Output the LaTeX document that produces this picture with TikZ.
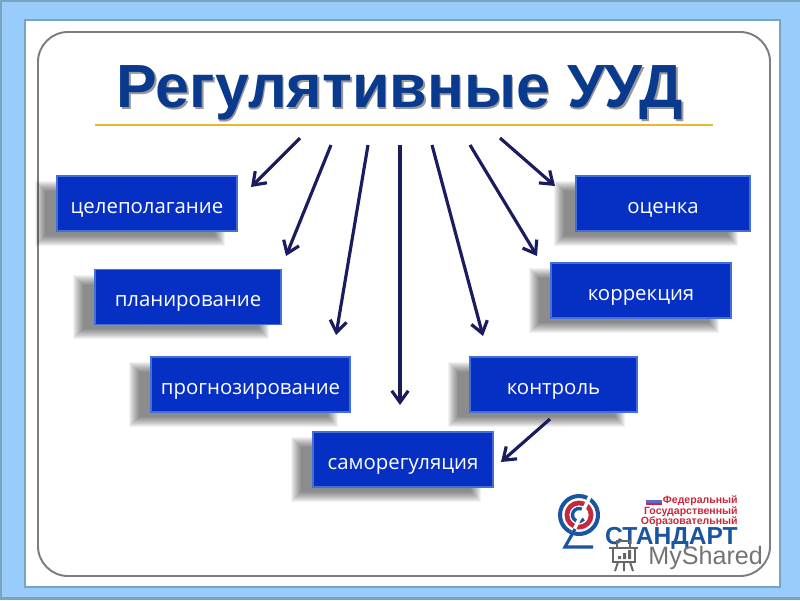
\documentclass[tikz,border=0pt]{standalone}
\usepackage{fontspec}
\setmainfont{Liberation Sans}
\newfontfamily\boxfont{Open Sans}
\usetikzlibrary{arrows.meta,calc,backgrounds}
\definecolor{cpage}{RGB}{153,204,250}
\definecolor{cedge}{RGB}{120,165,190}
\definecolor{cframe}{RGB}{125,125,125}
\definecolor{cbox}{RGB}{6,48,196}
\definecolor{cboxe}{RGB}{70,110,215}
\definecolor{carr}{RGB}{27,28,95}
\definecolor{ctitle}{RGB}{10,58,142}
\definecolor{cgold}{RGB}{232,185,47}
\definecolor{clogor}{RGB}{200,40,60}
\definecolor{clogob}{RGB}{25,85,160}
\newcommand{\boxshadow}[1]{%
  \foreach \k in {-6,...,4}
    \fill[black, opacity=0.05] ($(#1.north west)+(-17-\k,10-\k)$) rectangle ($(#1.south east)+(-17+\k,10+\k)$);
}
\tikzset{
  ubox/.style={rectangle, fill=cbox, draw=cboxe, line width=0.8pt, inner sep=0pt, text=white, font=\boxfont\fontsize{11.6}{13}\selectfont, minimum height=1.1cm, text height=2.1ex, text depth=0pt},
  uarr/.style={-{Straight Barb[length=2.3mm, width=3.3mm]}, carr, line width=1.8pt},
  flab/.style={font=\fontsize{6}{7}\selectfont\bfseries, text=clogor, anchor=east, inner sep=0pt},
  ring/.style={line width=#1, line cap=butt},
}
\begin{document}
\begin{tikzpicture}[x=0.02cm, y=-0.02cm]
  \useasboundingbox (0,0) rectangle (800,600);
  % frame
  \begin{pgfonlayer}{background}
    \fill[cedge] (0,0) rectangle (800,600);
    \fill[cpage] (2,2) rectangle (800,597);
    \fill[white, draw=cedge, line width=0.8pt] (25,20) rectangle (780,587);
    \draw[cframe, line width=1.1pt, rounded corners=0.6cm] (38,32) rectangle (770,576);
  \end{pgfonlayer}
  % title
  \node[font=\fontsize{34.7}{40}\selectfont\bfseries, text=black!40, inner sep=0pt, anchor=base] (titshadow) at (401.5,109.5) {Регулятивные УУД};
  \node[font=\fontsize{34.7}{40}\selectfont\bfseries, text=ctitle, inner sep=0pt, anchor=base] (title) at (400,107) {Регулятивные УУД};
  \coordinate (rulea) at (95,125);
  \coordinate (ruleb) at (713,125);
  \draw[cgold, line width=1.6pt] (rulea) -- (ruleb);
  % boxes
  \node[ubox, minimum width=3.6cm] (celep) at (147,203.5) {целеполагание};
  \node[ubox, minimum width=3.72cm] (plan) at (188,297) {планирование};
  \node[ubox, minimum width=3.98cm] (prog) at (250.5,384.5) {прогнозирование};
  \node[ubox, minimum width=3.6cm] (samor) at (403,459.5) {саморегуляция};
  \node[ubox, minimum width=3.34cm] (kontr) at (553.5,384.5) {контроль};
  \node[ubox, minimum width=3.6cm] (korr) at (641,290.5) {коррекция};
  \node[ubox, minimum width=3.48cm] (ocen) at (663,203.5) {оценка};
  \begin{pgfonlayer}{background}
    \boxshadow{celep} \boxshadow{plan} \boxshadow{prog} \boxshadow{samor}
    \boxshadow{kontr} \boxshadow{korr} \boxshadow{ocen}
  \end{pgfonlayer}
  % arrows
  \coordinate (a1) at (300,138); \coordinate (b1) at (251,187);
  \coordinate (a2) at (331,145); \coordinate (b2) at (286,256);
  \coordinate (a3) at (368,145); \coordinate (b3) at (336,335);
  \coordinate (a4) at (400,145); \coordinate (b4) at (400,405);
  \coordinate (a5) at (432,145); \coordinate (b5) at (483,336);
  \coordinate (a6) at (470,145); \coordinate (b6) at (537,256);
  \coordinate (a7) at (500,138); \coordinate (b7) at (555,186);
  \coordinate (a8) at (550,419); \coordinate (b8) at (501,462);
  \foreach \i in {1,...,8}
    \draw[uarr] (a\i) -- (b\i);
  % logo
  \coordinate (logoc) at (579,515);
  \draw[clogob, ring=2.3pt] (logoc) circle (19);
  \draw[clogor, ring=2.8pt] (logoc) circle (12);
  \fill[white] (logoc) circle (9.5);
  \draw[clogob, ring=1.9pt] ($(logoc)+(-40:6.5)$) arc (-40:-320:6.5);
  \draw[white, line width=2pt] (592,492) -- (573,532);
  \draw[clogob, line width=1.8pt] (575,529) -- (565,547) -- (593,547);
  \fill[white] (646,497) rectangle (662,499.5);
  \fill[black!35!blue!60!white] (646,499.5) rectangle (662,502.5);
  \fill[clogor] (646,502.5) rectangle (662,505);
  \node[flab] (fed) at (738,501) {Федеральный};
  \node[flab] (gos) at (738,512) {Государственный};
  \node[flab] (obr) at (738,522) {Образовательный};
  \node[font=\fontsize{14}{16}\selectfont\bfseries, text=clogob, anchor=east, inner sep=0pt] (stand) at (738,538) {СТАНДАРТ};
  % watermark
  \draw[black!60, line width=1.1pt] (609,548) -- (638,548) (613,548) -- (613,562) -- (635,562) -- (635,548);
  \draw[black!60, line width=1.1pt] (617,541) rectangle (630,548) (618,562) -- (615,571) (630,562) -- (633,571) (624,562) -- (624,571);
  \fill[black!60] (618,556) rectangle (621,559) (623,553) rectangle (626,559) (628,550) rectangle (631,559);
  \node[font=\fontsize{14.3}{18}\selectfont, text=black!55, anchor=base west, inner sep=0pt] (wmark) at (648,564) {MyShared};
\end{tikzpicture}
\end{document}
